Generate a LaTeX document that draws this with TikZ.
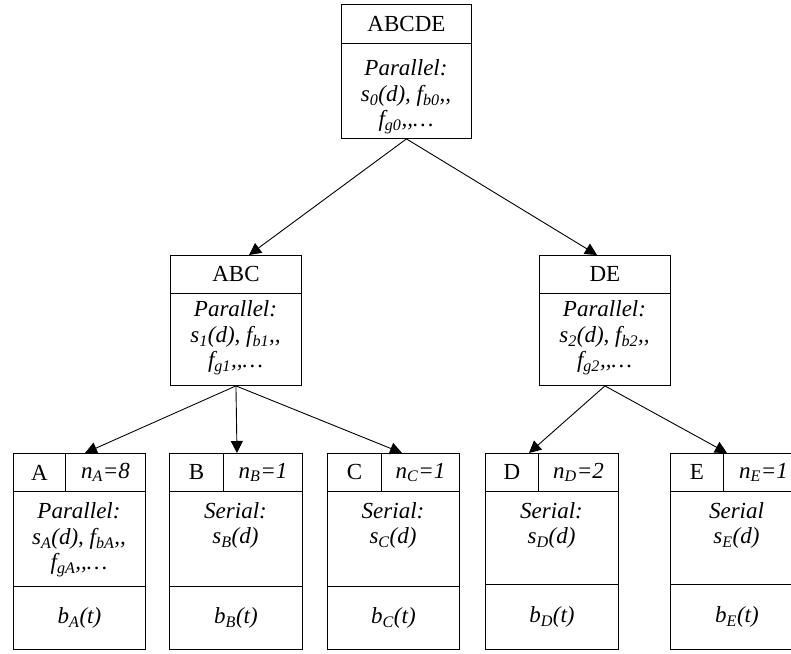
\documentclass[tikz,border=0pt]{standalone}
\usepackage{fontspec}
\setmainfont{Liberation Serif}
\usetikzlibrary{arrows.meta}
\newcommand{\cc}{,\kern0pt,}
\begin{document}
\begin{tikzpicture}[x=1pt,y=-1pt,
  cell/.style={draw, line width=0.9pt, inner sep=0pt, anchor=north west, font=\fontsize{23}{26}\selectfont},
  txt/.style={inner sep=0pt, align=center, font=\fontsize{23}{25.5}\selectfont},
  arr/.style={line width=0.9pt, -{Triangle[length=12pt,width=12pt]}}]
\useasboundingbox (0,0) rectangle (791,653);
\clip (0,0) rectangle (791,653);
% top box
\node[cell, minimum width=130, minimum height=39] (T0h) at (341,4) {ABCDE};
\node[cell, minimum width=130, minimum height=95] (T0b) at (341,43) {};
\node[txt] (T0t) at (406,97) {\textit{Parallel:}\\\textit{s\textsubscript{0}(d), f\textsubscript{b0}\cc}\\\textit{f\textsubscript{g0}\cc…}};
% ABC
\node[cell, minimum width=131, minimum height=38] (T1h) at (170,255) {ABC};
\node[cell, minimum width=131, minimum height=92] (T1b) at (170,293) {};
\node[txt] (T1t) at (235.5,338) {\textit{Parallel:}\\\textit{s\textsubscript{1}(d), f\textsubscript{b1}\cc}\\\textit{f\textsubscript{g1}\cc…}};
% DE
\node[cell, minimum width=131, minimum height=38] (T2h) at (539,255) {DE};
\node[cell, minimum width=131, minimum height=92] (T2b) at (539,293) {};
\node[txt] (T2t) at (604.5,338) {\textit{Parallel:}\\\textit{s\textsubscript{2}(d), f\textsubscript{b2}\cc}\\\textit{f\textsubscript{g2}\cc…}};
% A
\node[cell, minimum width=52, minimum height=38] (Ah) at (13,453) {A};
\node[cell, minimum width=80, minimum height=38] (An) at (65,453) {\textit{n\textsubscript{A}=8}};
\node[cell, minimum width=132, minimum height=95] (Ab) at (13,491) {};
\node[txt] (At) at (79,540) {\textit{Parallel:}\\\textit{s\textsubscript{A}(d), f\textsubscript{bA}\cc}\\\textit{f\textsubscript{gA}\cc…}};
\node[cell, minimum width=132, minimum height=63] (Ac) at (13,586) {\textit{b\textsubscript{A}(t)}};
% B
\node[cell, minimum width=54, minimum height=38] (Bh) at (169,453) {B};
\node[cell, minimum width=79, minimum height=38] (Bn) at (223,453) {\textit{n\textsubscript{B}=1}};
\node[cell, minimum width=133, minimum height=95] (Bb) at (169,491) {};
\node[txt] (Bt) at (235.5,525.5) {\textit{Serial:}\\\textit{s\textsubscript{B}(d)}};
\node[cell, minimum width=133, minimum height=63] (Bc) at (169,586) {\textit{b\textsubscript{B}(t)}};
% C
\node[cell, minimum width=54, minimum height=38] (Ch) at (327,453) {C};
\node[cell, minimum width=78, minimum height=38] (Cn) at (381,453) {\textit{n\textsubscript{C}=1}};
\node[cell, minimum width=132, minimum height=95] (Cb) at (327,491) {};
\node[txt] (Ct) at (393,525.5) {\textit{Serial:}\\\textit{s\textsubscript{C}(d)}};
\node[cell, minimum width=132, minimum height=63] (Cc) at (327,586) {\textit{b\textsubscript{C}(t)}};
% D
\node[cell, minimum width=53, minimum height=38] (Dh) at (485,453) {D};
\node[cell, minimum width=80, minimum height=38] (Dn) at (538,453) {\textit{n\textsubscript{D}=2}};
\node[cell, minimum width=133, minimum height=93] (Db) at (485,491) {};
\node[txt] (Dt) at (551.5,525.5) {\textit{Serial:}\\\textit{s\textsubscript{D}(d)}};
\node[cell, minimum width=133, minimum height=65] (Dc) at (485,584) {\textit{b\textsubscript{D}(t)}};
% E
\node[cell, minimum width=53, minimum height=38] (Eh) at (670,453) {E};
\node[cell, minimum width=80, minimum height=38] (En) at (723,453) {\textit{n\textsubscript{E}=1}};
\node[cell, minimum width=133, minimum height=93] (Eb) at (670,491) {};
\node[txt] (Et) at (736.5,525.5) {\textit{Serial}\\\textit{s\textsubscript{E}(d)}};
\node[cell, minimum width=133, minimum height=65] (Ec) at (670,584) {\textit{b\textsubscript{E}(t)}};
% arrow tips
\coordinate (tABC) at (249,255);
\coordinate (tDE) at (597,255);
\coordinate (tA) at (85,453);
\coordinate (tB) at (237,453);
\coordinate (tC) at (402,453);
\coordinate (tD) at (529,453);
\coordinate (tE) at (727,453);
\draw[arr] (T0b.south) -- (tABC);
\draw[arr] (T0b.south) -- (tDE);
\draw[arr] (T1b.south) -- (tA);
\draw[arr] (T1b.south) -- (tB);
\draw[arr] (T1b.south) -- (tC);
\draw[arr] (T2b.south) -- (tD);
\draw[arr] (T2b.south) -- (tE);
\end{tikzpicture}
\end{document}
